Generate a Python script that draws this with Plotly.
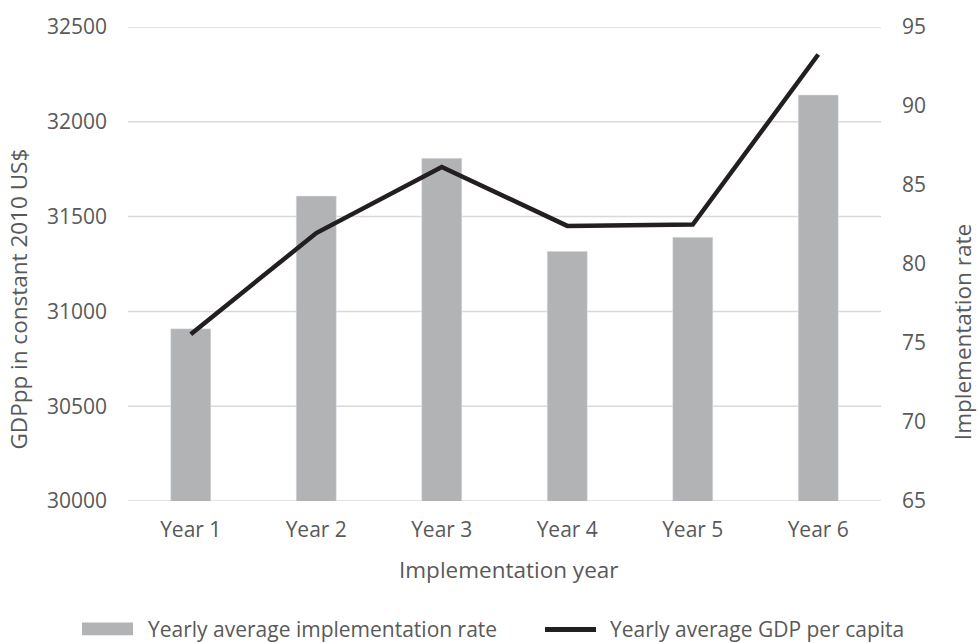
import plotly.graph_objects as go

years = ["Year 1", "Year 2", "Year 3", "Year 4", "Year 5", "Year 6"]
impl_rate = [75.9, 84.3, 86.7, 80.8, 81.7, 90.7]
gdp_pc = [30880, 31413, 31762, 31451, 31458, 32355]

gdp_ticks = [30000, 30500, 31000, 31500, 32000, 32500]
rate_ticks = [65, 70, 75, 80, 85, 90, 95]

bar_name = "Yearly average implementation rate"
line_name = "Yearly average GDP per capita"
x_title = "Implementation year"
left_title = "GDPpp in constant 2010 US$"
right_title = "Implementation rate"

W, H = 979, 643
L, R, T, B = 128, 881, 21, 501
FONT = "Open Sans"
FS = 21
FS_T = 22.5
TXT = "#595959"
BAR_C = "#b2b3b5"
LINE_C = "#231f20"
GRID_C = "#d9d9d9"


def px(x):
    return (x - L) / (R - L)


def py(y):
    return (B - y) / (B - T)


fig = go.Figure()
fig.add_trace(go.Bar(x=years, y=impl_rate, name=bar_name, marker_color=BAR_C,
                     width=0.32, yaxis="y", showlegend=False))
fig.add_trace(go.Scatter(x=years, y=gdp_pc, name=line_name, mode="lines",
                         line=dict(color=LINE_C, width=4.5), yaxis="y2",
                         showlegend=False))

fig.update_layout(
    width=W, height=H,
    margin=dict(l=L, r=W - R, t=T, b=H - B),
    paper_bgcolor="white", plot_bgcolor="white",
    font=dict(family=FONT, size=FS, color=TXT),
    xaxis=dict(showgrid=False, showline=False, zeroline=False,
               tickfont=dict(size=FS, color=TXT), ticklabelstandoff=14),
    yaxis=dict(side="right", range=[65, 95], tickvals=rate_ticks,
               showgrid=False, zeroline=False, showline=False,
               ticklabeloverflow="allow",
               tickfont=dict(size=FS, color=TXT), ticklabelstandoff=20),
    yaxis2=dict(side="left", overlaying="y", range=[30000, 32500],
                tickvals=gdp_ticks, tickformat="d", showgrid=False,
                zeroline=False, showline=False, ticklabeloverflow="allow",
                tickfont=dict(size=FS, color=TXT), ticklabelstandoff=20),
)

# gridlines (left axis) drawn beneath the bars
for v in gdp_ticks:
    fig.add_shape(type="line", xref="paper", yref="y2", x0=0, x1=1, y0=v, y1=v,
                  line=dict(color=GRID_C, width=1.5), layer="below")

# axis titles
fig.add_annotation(text=x_title, xref="paper", yref="paper", x=px(508), y=py(570),
                   showarrow=False, font=dict(size=FS_T, color=TXT),
                   xanchor="center", yanchor="middle")
fig.add_annotation(text=left_title, xref="paper", yref="paper", x=px(19), y=py(297),
                   showarrow=False, textangle=-90, font=dict(size=FS_T, color=TXT),
                   xanchor="center", yanchor="middle")
fig.add_annotation(text=right_title, xref="paper", yref="paper", x=px(962), y=py(330),
                   showarrow=False, textangle=-90, font=dict(size=FS_T, color=TXT),
                   xanchor="center", yanchor="middle")

# legend
fig.add_shape(type="rect", xref="paper", yref="paper",
              x0=px(82), x1=px(133), y0=py(637), y1=py(624),
              fillcolor=BAR_C, line=dict(width=0))
fig.add_annotation(text=bar_name, xref="paper", yref="paper", x=px(146), y=py(631),
                   showarrow=False, font=dict(size=FS, color=TXT),
                   xanchor="left", yanchor="middle")
fig.add_shape(type="line", xref="paper", yref="paper",
              x0=px(545), x1=px(596), y0=py(631), y1=py(631),
              line=dict(color=LINE_C, width=5))
fig.add_annotation(text=line_name, xref="paper", yref="paper", x=px(608), y=py(631),
                   showarrow=False, font=dict(size=FS, color=TXT),
                   xanchor="left", yanchor="middle")

fig.write_html("out.html", config={"displayModeBar": False},
               post_script="document.body.style.margin='0';")
